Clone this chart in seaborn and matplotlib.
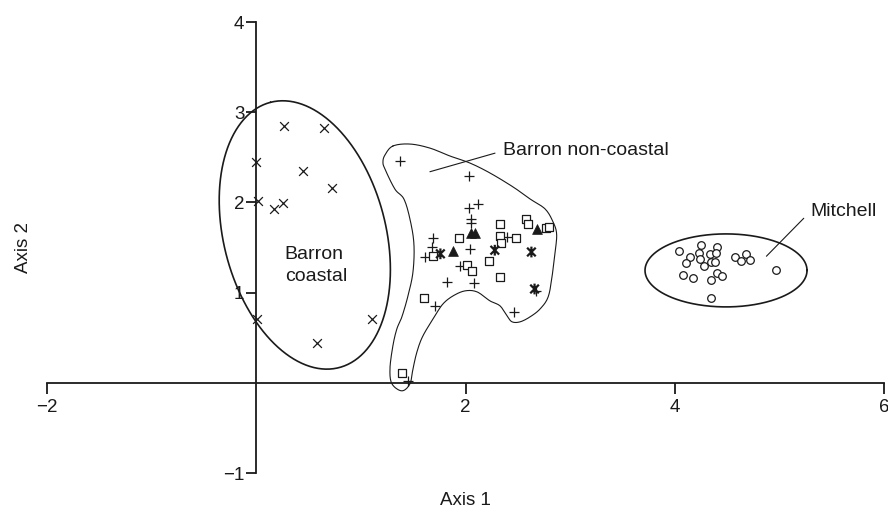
import numpy as np
import pandas as pd
import matplotlib
matplotlib.use("Agg")
import matplotlib.pyplot as plt
from matplotlib.path import Path
import seaborn as sns

# ---------------- data ----------------
coastal_x = [0.27, 0.65, 0.00, 0.45, 0.72, 0.02, 0.26, 0.17, 0.01, 1.11, 0.58]
coastal_y = [2.85, 2.83, 2.45, 2.35, 2.16, 2.02, 1.99, 1.93, 0.71, 0.71, 0.44]

plus_x = [1.37, 2.03, 2.03, 2.12, 2.05, 2.05, 1.69, 1.68, 1.61, 2.04, 2.40, 1.95,
          1.82, 2.08, 1.71, 2.46, 2.67, 1.45]
plus_y = [2.46, 2.29, 1.94, 1.98, 1.82, 1.77, 1.60, 1.51, 1.40, 1.48, 1.62, 1.30,
          1.12, 1.11, 0.85, 0.78, 1.02, 0.02]

square_x = [1.94, 2.33, 2.33, 2.34, 2.48, 2.58, 2.60, 2.77, 2.80, 1.69, 2.22, 2.01,
            2.06, 2.33, 1.60, 1.39]
square_y = [1.60, 1.76, 1.63, 1.55, 1.60, 1.82, 1.76, 1.72, 1.73, 1.41, 1.35, 1.31,
            1.24, 1.17, 0.94, 0.11]

tri_x = [2.05, 2.09, 1.88, 2.68]
tri_y = [1.66, 1.66, 1.46, 1.70]

star_x = [1.76, 2.28, 2.63, 2.66]
star_y = [1.43, 1.47, 1.45, 1.04]

mitchell_x = [4.04, 4.25, 4.40, 4.15, 4.23, 4.34, 4.39, 4.24, 4.11, 4.28, 4.35, 4.38,
              4.58, 4.63, 4.68, 4.72, 4.08, 4.17, 4.35, 4.40, 4.45, 4.97, 4.35]
mitchell_y = [1.46, 1.53, 1.51, 1.39, 1.44, 1.43, 1.44, 1.37, 1.33, 1.29, 1.34, 1.34,
              1.39, 1.35, 1.43, 1.36, 1.20, 1.16, 1.14, 1.22, 1.18, 1.25, 0.94]

x_ticks = [-2, 2, 4, 6]
y_ticks = [-1, 1, 2, 3, 4]

# outline of the Barron non-coastal group
outline_x = [1.306, 1.469, 1.660, 1.852, 2.043, 2.234, 2.455, 2.617, 2.761, 2.837,
             2.871, 2.857, 2.828, 2.790, 2.713, 2.617, 2.522, 2.445, 2.397, 2.330,
             2.234, 2.110, 1.995, 1.880, 1.785, 1.708, 1.593, 1.536, 1.498, 1.469,
             1.392, 1.297, 1.278, 1.306, 1.344, 1.392, 1.450, 1.498, 1.507, 1.469,
             1.411, 1.325, 1.230, 1.211, 1.230]
outline_y = [2.625, 2.647, 2.602, 2.514, 2.436, 2.326, 2.171, 2.038, 1.927, 1.783,
             1.650, 1.451, 1.185, 0.952, 0.819, 0.731, 0.676, 0.676, 0.742, 0.853,
             0.908, 1.008, 1.019, 0.963, 0.875, 0.742, 0.520, 0.343, 0.155, -0.011,
             -0.089, -0.011, 0.155, 0.410, 0.598, 0.731, 0.963, 1.229, 1.539, 1.816,
             2.038, 2.148, 2.370, 2.447, 2.525]

# ---------------- figure ----------------
sns.set_style("white")
plt.rcParams["font.family"] = ["Liberation Sans", "DejaVu Sans"]
INK = "#1a1a1a"

fig = plt.figure(figsize=(8.88, 5.14), dpi=100)
ax = fig.add_axes([47 / 888, 41 / 514, 837 / 888, 451 / 514])
ax.set_xlim(-2, 6)
ax.set_ylim(-1, 4)

def frame(x, y):
    return pd.DataFrame({"x": x, "y": y})

# "x with a vertical bar" marker
star_marker = Path([(-1, -1), (1, 1), (-1, 1), (1, -1), (0, -1.25), (0, 1.25)],
                   [Path.MOVETO, Path.LINETO, Path.MOVETO, Path.LINETO,
                    Path.MOVETO, Path.LINETO])

lw = 0.9
sns.scatterplot(data=frame(coastal_x, coastal_y), x="x", y="y", marker="x",
                s=40, color=INK, linewidth=lw, ax=ax, zorder=3)
sns.scatterplot(data=frame(plus_x, plus_y), x="x", y="y", marker="+",
                s=55, color=INK, linewidth=lw, ax=ax, zorder=3)
sns.scatterplot(data=frame(square_x, square_y), x="x", y="y", marker="s",
                s=28, facecolor="white", edgecolor=INK, linewidth=lw, ax=ax, zorder=3)
sns.scatterplot(data=frame(tri_x, tri_y), x="x", y="y", marker="^",
                s=50, color=INK, edgecolor=INK, linewidth=0.5, ax=ax, zorder=4)
sns.scatterplot(data=frame(star_x, star_y), x="x", y="y", marker=star_marker,
                s=60, facecolor="none", edgecolor=INK, linewidth=1.6, ax=ax, zorder=4)
sns.scatterplot(data=frame(mitchell_x, mitchell_y), x="x", y="y", marker="o",
                s=30, facecolor="white", edgecolor=INK, linewidth=lw, ax=ax, zorder=3)

# ellipses (drawn in screen space so that their shape matches the figure)
def ellipse(cx, cy, a_px, b_px, ang_deg):
    t = np.linspace(0, 2 * np.pi, 400)
    c = ax.transData.transform((cx, cy))
    p = np.deg2rad(ang_deg)
    dx = a_px * np.cos(t) * np.cos(p) - b_px * np.sin(t) * np.sin(p)
    dy = a_px * np.cos(t) * np.sin(p) + b_px * np.sin(t) * np.cos(p)
    pts = ax.transData.inverted().transform(np.column_stack([c[0] + dx, c[1] + dy]))
    ax.plot(pts[:, 0], pts[:, 1], color=INK, lw=1.2, zorder=2, clip_on=False)

ellipse(0.464, 1.639, 137, 81, 104.5)
ellipse(4.49, 1.246, 81, 36.5, 0)

# smooth closed outline (Catmull-Rom)
P = np.column_stack([outline_x, outline_y])
n = len(P)
curve = []
for i in range(n):
    p0, p1, p2, p3 = P[(i - 1) % n], P[i], P[(i + 1) % n], P[(i + 2) % n]
    for t in np.linspace(0, 1, 10, endpoint=False):
        t2, t3 = t * t, t * t * t
        curve.append(0.5 * ((2 * p1) + (-p0 + p2) * t +
                            (2 * p0 - 5 * p1 + 4 * p2 - p3) * t2 +
                            (-p0 + 3 * p1 - 3 * p2 + p3) * t3))
curve.append(curve[0])
curve = np.array(curve)
ax.plot(curve[:, 0], curve[:, 1], color=INK, lw=0.8, zorder=2)

# labels and leader lines
fs = 14
ax.plot([1.660, 2.282], [2.340, 2.546], color=INK, lw=0.8)
ax.text(2.36, 2.525, "Barron non-coastal", fontsize=fs, color=INK, va="baseline", ha="left")
ax.plot([4.876, 5.233], [1.403, 1.824], color=INK, lw=0.8)
ax.text(5.297, 1.853, "Mitchell", fontsize=fs, color=INK, va="baseline", ha="left")
ax.text(0.273, 1.373, "Barron", fontsize=fs, color=INK, va="baseline", ha="left")
ax.text(0.273, 1.133, "coastal", fontsize=fs, color=INK, va="baseline", ha="left")

# axes through the origin
for s in ["top", "right"]:
    ax.spines[s].set_visible(False)
ax.spines["left"].set_position(("data", 0))
ax.spines["bottom"].set_position(("data", 0))
for s in ["left", "bottom"]:
    ax.spines[s].set_color(INK)
    ax.spines[s].set_linewidth(1.3)
    ax.spines[s].set_zorder(1)

ax.set_xticks(x_ticks)
ax.set_yticks(y_ticks)
ax.set_xticklabels([f"{v:g}".replace("-", "\u2212") for v in x_ticks])
ax.set_yticklabels([f"{v:g}".replace("-", "\u2212") for v in y_ticks])
ax.tick_params(axis="x", direction="out", length=8, width=1.3, color=INK,
               labelsize=13.5, labelcolor=INK, pad=4, bottom=True)
ax.tick_params(axis="y", direction="out", length=7, width=1.3, color=INK,
               labelsize=13.5, labelcolor=INK, pad=1.5, left=True)

ax.set_xlabel("Axis 1", fontsize=13.5, color=INK)
ax.set_ylabel("Axis 2", fontsize=13.5, color=INK)
ax.xaxis.set_label_coords(0.5, -0.06)
ax.xaxis.label.set_va("center")
ax.yaxis.set_label_coords(-0.0275, 0.5)
ax.yaxis.label.set_va("center")
ax.grid(False)

fig.savefig("out.png", dpi=100)
